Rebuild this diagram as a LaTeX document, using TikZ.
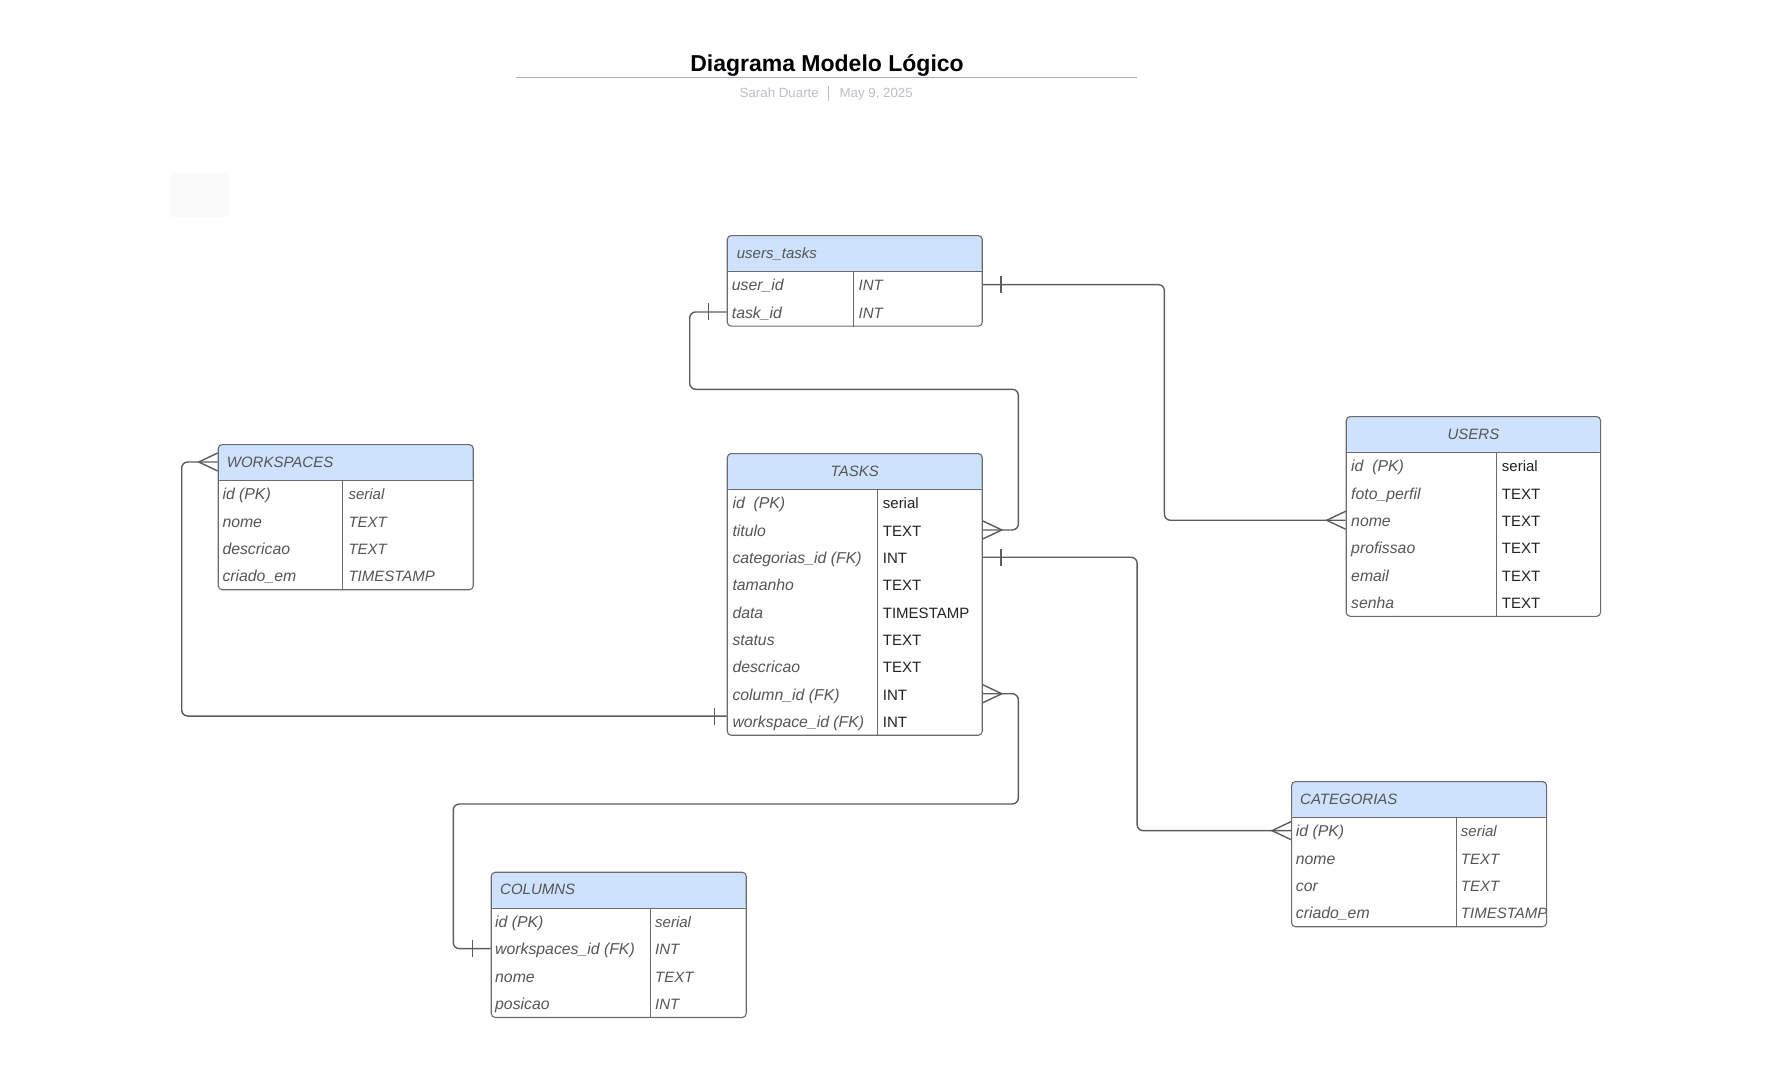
\documentclass[tikz,border=0pt]{standalone}
\usepackage{fontspec}
\setmainfont{Liberation Sans}
\usepackage{xcolor}
\usepackage{tikz}
\usetikzlibrary{positioning, shapes, arrows.meta}

\definecolor{headblue}{HTML}{CFE2FD}
\definecolor{boxgray}{HTML}{6B6B6B}
\definecolor{linkgray}{HTML}{5C5C5C}
\definecolor{fieldgray}{HTML}{555555}
\definecolor{typedark}{HTML}{222222}
\definecolor{rulegray}{HTML}{A9ABBB}
\definecolor{subgray}{HTML}{BDBFC8}

\tikzset{
    onemark/.pic={\draw[link, sharp corners] (18pt,-8.5pt) -- (18pt,8.5pt);},
    manymark/.pic={\draw[link, sharp corners] (0pt,9pt) -- (19pt,0pt) -- (0pt,-9pt);}
}

\begin{document}
\begin{tikzpicture}[
    x=1pt, y=-1pt,
    boxline/.style={draw=boxgray, line width=1.1pt},
    tablebox/.style={boxline, rounded corners=4pt, fill=white, anchor=north west,
        minimum width=255pt, inner sep=0pt,
        path picture={
            \fill[headblue] (path picture bounding box.north west) rectangle ([yshift=-36pt]path picture bounding box.north east);
            \draw[boxline] ([yshift=-36pt]path picture bounding box.north west) -- ([yshift=-36pt]path picture bounding box.north east);
        }},
    head/.style={inner sep=0pt, text height=12pt, text depth=2pt, font=\fontsize{15}{18}\selectfont\itshape, text=fieldgray},
    field/.style={anchor=west, inner sep=0pt, text height=13pt, text depth=0.5pt, font=\fontsize{15.8}{18}\selectfont\itshape, text=fieldgray},
    dtype/.style={field, font=\fontsize{15}{18}\selectfont\itshape},
    dtypeup/.style={field, font=\fontsize{15}{18}\selectfont, text=typedark},
    title/.style={inner sep=0pt, font=\fontsize{23}{27}\selectfont\bfseries, text=black},
    subtitle/.style={inner sep=0pt, font=\fontsize{13.3}{16}\selectfont, text=subgray},
    link/.style={draw=linkgray, line width=1.4pt, rounded corners=6pt}
]
\useasboundingbox (0,0) rectangle (1777,1066);

% Title
\node[title, anchor=base] (title) at (827,71.7) {Diagrama Modelo Lógico};
\draw[rulegray, line width=1.3pt] (516,77.7) -- (1137,77.7);
\node[subtitle, anchor=base east] (author) at (819,97.5) {Sarah Duarte};
\node[subtitle, anchor=base west] (date) at (839.4,97.5) {May 9, 2025};
\draw[subgray, line width=1pt] (828.7,86.2) -- (828.7,101.2);

% Empty note
\fill[black!2] (170,173) rectangle (229,217);

% users_tasks table
\node[tablebox, minimum height=90.6pt] (ut) at (726.7,235) {};
\node[head, anchor=west] (ut-head) at ([xshift=10pt,yshift=-18pt]ut.north west) {users\_tasks};
\draw[boxline] ([xshift=127pt,yshift=-36pt]ut.north west) -- ([xshift=127pt]ut.south west);
\foreach \fn/\ft [count=\i] in {user\_id/INT, task\_id/INT}{
    \node[field] (ut-\i) at (731.7,{271+(\i-0.5)*27.3}) {\fn};
    \node[dtype] (ut-\i-t) at (858.5,{271+(\i-0.5)*27.3}) {\ft};
}

% TASKS table
\node[tablebox, minimum height=281.7pt] (tasks) at (726.7,453) {};
\node[head] (tasks-head) at ([yshift=-18pt]tasks.north) {TASKS};
\draw[boxline] ([xshift=151pt,yshift=-36pt]tasks.north west) -- ([xshift=151pt]tasks.south west);
\foreach \fn/\ft [count=\i] in {id~ (PK)/serial, titulo/TEXT, categorias\_id (FK)/INT, tamanho/TEXT,
    data/TIMESTAMP, status/TEXT, descricao/TEXT, column\_id (FK)/INT, workspace\_id (FK)/INT}{
    \node[field] (tasks-\i) at (732.3,{489+(\i-0.5)*27.3}) {\fn};
    \node[dtypeup] (tasks-\i-t) at (882.7,{489+(\i-0.5)*27.3}) {\ft};
}

% USERS table
\node[tablebox, minimum height=199.8pt, minimum width=254.3pt] (users) at (1345.7,416) {};
\node[head] (users-head) at ([yshift=-18pt]users.north) {USERS};
\draw[boxline] ([xshift=151pt,yshift=-36pt]users.north west) -- ([xshift=151pt]users.south west);
\foreach \fn/\ft [count=\i] in {id~ (PK)/serial, foto\_perfil/TEXT, nome/TEXT, profissao/TEXT, email/TEXT, senha/TEXT}{
    \node[field] (users-\i) at (1351,{452+(\i-0.5)*27.3}) {\fn};
    \node[dtypeup] (users-\i-t) at (1501.7,{452+(\i-0.5)*27.3}) {\ft};
}

% WORKSPACES table
\node[tablebox, minimum height=145.2pt] (ws) at (217.7,444) {};
\node[head, anchor=west] (ws-head) at ([xshift=9pt,yshift=-18pt]ws.north west) {WORKSPACES};
\draw[boxline] ([xshift=125pt,yshift=-36pt]ws.north west) -- ([xshift=125pt]ws.south west);
\foreach \fn/\ft [count=\i] in {id (PK)/serial, nome/TEXT, descricao/TEXT, criado\_em/TIMESTAMP}{
    \node[field] (ws-\i) at (222.3,{480+(\i-0.5)*27.3}) {\fn};
    \node[dtype] (ws-\i-t) at (348.3,{480+(\i-0.5)*27.3}) {\ft};
}

% CATEGORIAS table
\node[tablebox, minimum height=145.2pt] (cat) at (1291,781) {};
\node[head, anchor=west] (cat-head) at ([xshift=9pt,yshift=-18pt]cat.north west) {CATEGORIAS};
\draw[boxline] ([xshift=165.7pt,yshift=-36pt]cat.north west) -- ([xshift=165.7pt]cat.south west);
\foreach \fn/\ft [count=\i] in {id (PK)/serial, nome/TEXT, cor/TEXT, criado\_em/TIMESTAMP}{
    \node[field] (cat-\i) at (1295.7,{817+(\i-0.5)*27.3}) {\fn};
    \node[dtype] (cat-\i-t) at (1460.7,{817+(\i-0.5)*27.3}) {\ft};
}

% COLUMNS table
\node[tablebox, minimum height=145.2pt] (cols) at (490.7,871.7) {};
\node[head, anchor=west] (cols-head) at ([xshift=9.3pt,yshift=-18pt]cols.north west) {COLUMNS};
\draw[boxline] ([xshift=160pt,yshift=-36pt]cols.north west) -- ([xshift=160pt]cols.south west);
\foreach \fn/\ft [count=\i] in {id (PK)/serial, workspaces\_id (FK)/INT, nome/TEXT, posicao/INT}{
    \node[field] (cols-\i) at (495,{907.7+(\i-0.5)*27.3}) {\fn};
    \node[dtype] (cols-\i-t) at (655,{907.7+(\i-0.5)*27.3}) {\ft};
}

% Relations
\draw[link] (ut.east |- ut-1) -- ++(181.6,0) |- (users.west |- users-3);
\pic at (ut.east |- ut-1) {onemark};
\pic[rotate=180] at (users.west |- users-3) {manymark};

\draw[link] (tasks.east |- tasks-2) -| (1018.3,389.3) -| ([xshift=-37pt]ut.west |- ut-2) -- (ut.west |- ut-2);
\pic at (tasks.east |- tasks-2) {manymark};
\pic[rotate=180] at (ut.west |- ut-2) {onemark};

\draw[link] (tasks.east |- tasks-3) -- ++(154.3,0) |- (cat.west |- cat-1);
\pic at (tasks.east |- tasks-3) {onemark};
\pic[rotate=180] at (cat.west |- cat-1) {manymark};

\draw[link] (tasks.east |- tasks-8) -| (1018.3,804) -| ([xshift=-37.4pt]cols.west |- cols-2) -- (cols.west |- cols-2);
\pic at (tasks.east |- tasks-8) {manymark};
\pic[rotate=180] at (cols.west |- cols-2) {onemark};

\draw[link] ([yshift=5pt]tasks.west |- tasks-9) -| ([xshift=-36pt]ws.west |- ws-head) -- (ws.west |- ws-head);
\pic[rotate=180] at ([xshift=6pt,yshift=5pt]tasks.west |- tasks-9) {onemark};
\pic[rotate=180] at (ws.west |- ws-head) {manymark};

\end{tikzpicture}
\end{document}
